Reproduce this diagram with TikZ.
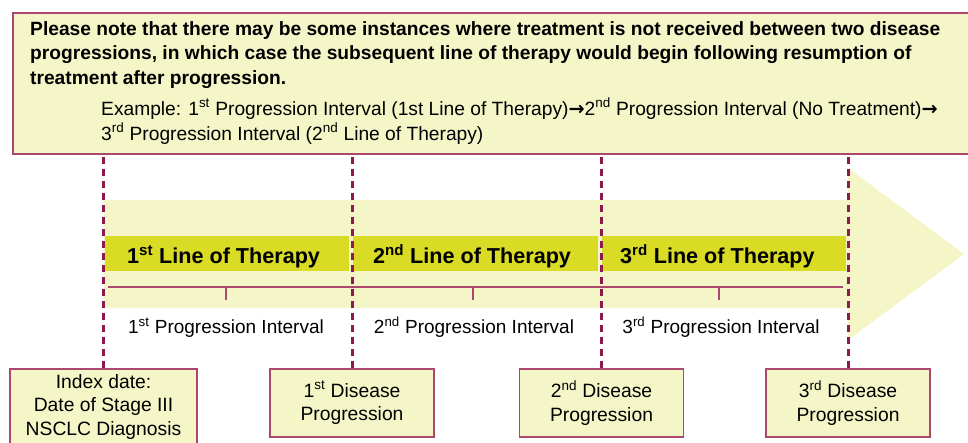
\documentclass[tikz,border=0pt]{standalone}
\usepackage{fontspec}
\setmainfont{Liberation Sans}
\newfontfamily\arrowfont{DejaVu Sans}
\usetikzlibrary{positioning,calc}
\definecolor{paleyel}{RGB}{245,246,200}
\definecolor{barlime}{RGB}{217,219,36}
\definecolor{plum}{RGB}{140,26,78}
\definecolor{rosy}{RGB}{172,72,112}
\newcommand{\thinarrow}{{\arrowfont\bfseries →}}

\begin{document}
\begin{tikzpicture}[x=1pt,y=-1pt,
  every node/.style={inner sep=0pt,font=\fontsize{17}{20}\selectfont},
  notebox/.style={draw=rosy,line width=1.5pt,fill=paleyel,anchor=north west},
  notetext/.style={anchor=base west,font=\fontsize{19.2}{22}\selectfont\bfseries},
  extext/.style={anchor=base west,font=\fontsize{19.2}{22}\selectfont},
  pbox/.style={draw=rosy,line width=1.5pt,fill=paleyel,align=center,minimum width=164pt,minimum height=68pt,
    font=\fontsize{19.3}{23.5}\selectfont},
  lotlabel/.style={anchor=base west,font=\fontsize{21.6}{24}\selectfont\bfseries},
  intlabel/.style={anchor=base,font=\fontsize{19}{20}\selectfont},
  dashln/.style={plum,line width=3pt,dash pattern=on 7pt off 5pt}]
  \useasboundingbox (0,0) rectangle (968,442);
  \clip (0,0) rectangle (968,442);
  \fill[paleyel] (104,200) -- (848,200) -- (848,168) -- (964,254) -- (848,340) -- (848,308) -- (104,308) -- cycle;
  \fill[barlime] (105,236) rectangle (349,271);
  \fill[barlime] (353,236) rectangle (598,271);
  \fill[barlime] (602,236) rectangle (846,271);
  \node[lotlabel] (lot1) at (127,263) {1\textsuperscript{st} Line of Therapy};
  \node[lotlabel] (lot2) at (373,263) {2\textsuperscript{nd} Line of Therapy};
  \node[lotlabel] (lot3) at (620,263) {3\textsuperscript{rd} Line of Therapy};
  \draw[rosy,line width=1.8pt] (108,287) -- (843,287);
  \foreach \x in {226,473,719} \draw[rosy,line width=1.5pt] (\x,287) -- (\x,300);
  \node[intlabel] (pi1) at (226,333) {1\textsuperscript{st} Progression Interval};
  \node[intlabel] (pi2) at (474,333) {2\textsuperscript{nd} Progression Interval};
  \node[intlabel] (pi3) at (721,333) {3\textsuperscript{rd} Progression Interval};
  \node[notebox,minimum width=975pt,minimum height=141pt] (note) at (12,12) {};
  \node[notetext] (note1) at (30,35)
       {Please note that there may be some instances where treatment is not received between two disease};
  \node[notetext] (note2) at (30,59)
       {progressions, in which case the subsequent line of therapy would begin following resumption of};
  \node[notetext] (note3) at (30,84)
       {treatment after progression.};
  \node[extext] (ex1) at (101,115)
       {Example: 1\textsuperscript{st} Progression Interval (1st Line of Therapy)\thinarrow 2\textsuperscript{nd} Progression Interval (No Treatment)\thinarrow};
  \node[extext] (ex2) at (101,140)
       {3\textsuperscript{rd} Progression Interval (2\textsuperscript{nd} Line of Therapy)};
  \node[pbox,minimum width=187pt,minimum height=76pt] (idx) at (103.5,407) {Index date:\\Date of Stage III\\NSCLC Diagnosis};
  \node[pbox] (dp1) at (352,403) {1\textsuperscript{st} Disease\\Progression};
  \node[pbox] (dp2) at (601.5,403) {2\textsuperscript{nd} Disease\\Progression};
  \node[pbox] (dp3) at (848,403) {3\textsuperscript{rd} Disease\\Progression};
  \foreach \b in {idx,dp1,dp2,dp3} \draw[dashln] (\b.north) -- (\b.north |- note.south);
\end{tikzpicture}
\end{document}
